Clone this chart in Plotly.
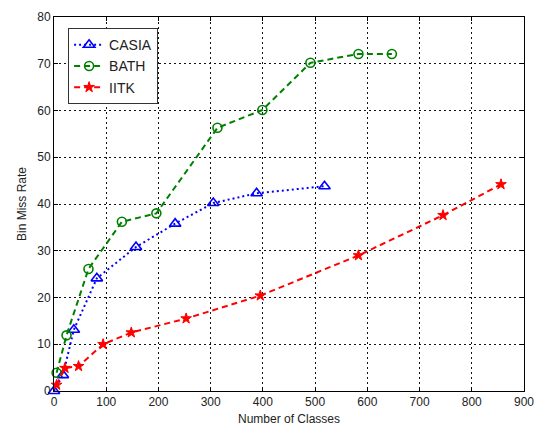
import plotly.graph_objects as go

casia_x = [0, 17, 38, 82, 157, 232, 305, 388, 518]
casia_y = [0, 3.4, 13.1, 24.1, 30.8, 35.8, 40.2, 42.3, 43.8]
bath_x = [5, 24, 66, 130, 196, 313, 399, 491, 583, 647]
bath_y = [3.9, 11.9, 26.1, 36.2, 38.0, 56.3, 60.1, 70.2, 72.1, 72.1]
iitk_x = [5, 21, 47, 94, 148, 253, 395, 583, 745, 856]
iitk_y = [1.3, 4.9, 5.3, 10.0, 12.5, 15.5, 20.4, 29.0, 37.6, 44.2]
x_ticks = [0, 100, 200, 300, 400, 500, 600, 700, 800, 900]
y_ticks = [0, 10, 20, 30, 40, 50, 60, 70, 80]

fig = go.Figure()
fig.add_trace(go.Scatter(x=casia_x, y=casia_y, name="CASIA", mode="lines+markers",
                         line=dict(color="#0000ff", width=2, dash="2px,3px"),
                         marker=dict(symbol="triangle-up-open", size=10, color="#0000ff",
                                     line=dict(width=1.6)),
                         cliponaxis=False))
fig.add_trace(go.Scatter(x=bath_x, y=bath_y, name="BATH", mode="lines+markers",
                         line=dict(color="#008000", width=2, dash="6px,4px"),
                         marker=dict(symbol="circle-open", size=9, color="#008000",
                                     line=dict(width=1.6)),
                         cliponaxis=False))
fig.add_trace(go.Scatter(x=iitk_x, y=iitk_y, name="IITK", mode="lines+markers",
                         line=dict(color="#ff0000", width=2, dash="6px,4px"),
                         marker=dict(symbol="star", size=8, color="#ff0000",
                                     line=dict(width=1, color="#ff0000")),
                         cliponaxis=False))

axis_common = dict(
    showline=True, linecolor="black", linewidth=1, mirror="ticks",
    ticks="inside", ticklen=4, tickcolor="black",
    showgrid=True, gridcolor="#111111", griddash="2px,3px", gridwidth=1,
    zeroline=False,
    tickfont=dict(family="Liberation Sans, Arial", size=12, color="#222222"),
)
fig.update_xaxes(range=[0, 900], tickvals=x_ticks, **axis_common,
                 title=dict(text="Number of Classes", standoff=6,
                            font=dict(family="Liberation Sans, Arial", size=12, color="#222222")))
fig.update_yaxes(range=[0, 80], tickvals=y_ticks, **axis_common,
                 title=dict(text="Bin Miss Rate", standoff=8,
                            font=dict(family="Liberation Sans, Arial", size=12, color="#222222")))

fig.update_layout(
    width=544, height=434,
    margin=dict(l=54, r=10, t=16, b=40),
    paper_bgcolor="white", plot_bgcolor="white",
    showlegend=True,
    legend=dict(x=0.03, y=0.97, xanchor="left", yanchor="top",
                bgcolor="white", bordercolor="#333333", borderwidth=1,
                font=dict(family="Liberation Sans, Arial", size=14, color="#222222"),
                tracegroupgap=2),
)

fig.write_html("out.html")
